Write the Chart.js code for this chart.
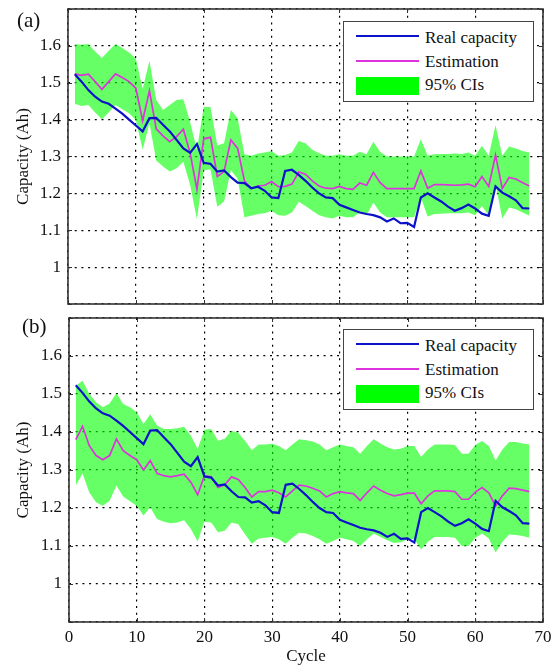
<!DOCTYPE html>
<html>
<head>
<meta charset="utf-8">
<script src="https://cdn.jsdelivr.net/npm/chart.js@4.4.1/dist/chart.umd.min.js"></script>
<style>
  html, body { margin: 0; padding: 0; background: #fff; }
  #page { position: relative; width: 556px; height: 668px; overflow: hidden; font-family: "Liberation Serif", "DejaVu Serif", serif; }
  canvas { position: absolute; left: 0; }
  .panel-label { position: absolute; font-size: 21px; color: #111; line-height: 1; }
  .legend { position: absolute; left: 343px; width: 189px; height: 79px; border: 1px solid #444; background: #fff; }
  .legend .sample { position: absolute; left: 12px; width: 63px; }
  .legend .txt { position: absolute; left: 81px; font-size: 17px; color: #111; line-height: 1; white-space: nowrap; }
</style>
</head>
<body>
<div id="page">
  <canvas id="chartA" width="556" height="312" style="top:0"></canvas>
  <canvas id="chartB" width="556" height="356" style="top:312px"></canvas>
  <div class="panel-label" style="left:17px; top:10px">(a)</div>
  <div class="panel-label" style="left:22px; top:316px">(b)</div>
  <div id="legendA" class="legend" style="top:21px"></div>
  <div id="legendB" class="legend" style="top:329px"></div>
</div>
<script>
// cycle numbers
const cycles = [1, 2, 3, 4, 5, 6, 7, 8, 9, 10, 11, 12, 13, 14, 15, 16, 17, 18, 19, 20,
  21, 22, 23, 24, 25, 26, 27, 28, 29, 30, 31, 32, 33, 34, 35, 36, 37, 38, 39, 40,
  41, 42, 43, 44, 45, 46, 47, 48, 49, 50, 51, 52, 53, 54, 55, 56, 57, 58, 59, 60,
  61, 62, 63, 64, 65, 66, 67, 68];

// measured capacity (same in both panels)
const realCapacity = [
  1.523, 1.503, 1.480, 1.462, 1.449, 1.443, 1.430, 1.416, 1.400, 1.384,
  1.368, 1.404, 1.405, 1.386, 1.368, 1.345, 1.322, 1.310, 1.334, 1.283,
  1.280, 1.259, 1.262, 1.244, 1.229, 1.228, 1.214, 1.218, 1.207, 1.189,
  1.187, 1.261, 1.264, 1.250, 1.234, 1.216, 1.200, 1.189, 1.187, 1.169,
  1.162, 1.155, 1.148, 1.144, 1.141, 1.135, 1.124, 1.132, 1.119, 1.120,
  1.109, 1.189, 1.200, 1.189, 1.178, 1.164, 1.153, 1.160, 1.170, 1.159,
  1.145, 1.139, 1.219, 1.202, 1.192, 1.181, 1.160, 1.159];

// panel (a)
const estimationA = [
  1.524, 1.520, 1.523, 1.503, 1.482, 1.503, 1.524, 1.514, 1.503, 1.485,
  1.397, 1.478, 1.375, 1.356, 1.340, 1.354, 1.374, 1.309, 1.211, 1.348,
  1.352, 1.246, 1.259, 1.345, 1.322, 1.234, 1.213, 1.220, 1.222, 1.232,
  1.218, 1.219, 1.225, 1.258, 1.252, 1.234, 1.220, 1.214, 1.213, 1.219,
  1.213, 1.211, 1.228, 1.222, 1.257, 1.229, 1.213, 1.213, 1.213, 1.213,
  1.213, 1.261, 1.214, 1.224, 1.224, 1.223, 1.222, 1.223, 1.225, 1.218,
  1.246, 1.219, 1.304, 1.213, 1.243, 1.239, 1.229, 1.220];
const upperA = [
  1.605, 1.603, 1.605, 1.585, 1.567, 1.587, 1.605, 1.594, 1.582, 1.566,
  1.483, 1.560, 1.453, 1.426, 1.440, 1.453, 1.455, 1.393, 1.318, 1.434,
  1.434, 1.330, 1.336, 1.426, 1.404, 1.306, 1.302, 1.308, 1.311, 1.315,
  1.302, 1.304, 1.311, 1.342, 1.336, 1.318, 1.309, 1.302, 1.302, 1.306,
  1.302, 1.302, 1.313, 1.306, 1.340, 1.313, 1.300, 1.300, 1.300, 1.300,
  1.300, 1.347, 1.302, 1.306, 1.307, 1.307, 1.308, 1.307, 1.311, 1.302,
  1.329, 1.302, 1.385, 1.302, 1.327, 1.322, 1.315, 1.311];
const lowerA = [
  1.443, 1.437, 1.440, 1.419, 1.401, 1.419, 1.440, 1.428, 1.417, 1.399,
  1.318, 1.390, 1.289, 1.273, 1.259, 1.268, 1.286, 1.223, 1.130, 1.263,
  1.265, 1.164, 1.178, 1.263, 1.240, 1.135, 1.139, 1.144, 1.146, 1.153,
  1.141, 1.139, 1.148, 1.177, 1.166, 1.153, 1.141, 1.135, 1.132, 1.139,
  1.135, 1.135, 1.148, 1.141, 1.175, 1.148, 1.135, 1.135, 1.135, 1.135,
  1.135, 1.189, 1.137, 1.144, 1.145, 1.146, 1.146, 1.146, 1.148, 1.141,
  1.166, 1.139, 1.225, 1.132, 1.162, 1.157, 1.148, 1.139];

// panel (b)
const estimationB = [
  1.380, 1.415, 1.364, 1.338, 1.327, 1.338, 1.382, 1.351, 1.338, 1.327,
  1.300, 1.325, 1.291, 1.285, 1.282, 1.285, 1.289, 1.268, 1.235, 1.285,
  1.282, 1.254, 1.261, 1.282, 1.275, 1.254, 1.229, 1.243, 1.243, 1.247,
  1.240, 1.229, 1.245, 1.260, 1.258, 1.252, 1.245, 1.229, 1.238, 1.243,
  1.240, 1.238, 1.220, 1.240, 1.258, 1.247, 1.238, 1.232, 1.235, 1.239,
  1.239, 1.211, 1.232, 1.245, 1.245, 1.245, 1.243, 1.223, 1.223, 1.242,
  1.254, 1.240, 1.205, 1.232, 1.252, 1.251, 1.247, 1.243];
const upperB = [
  1.522, 1.535, 1.500, 1.478, 1.465, 1.475, 1.502, 1.474, 1.465, 1.452,
  1.421, 1.447, 1.417, 1.408, 1.408, 1.410, 1.414, 1.390, 1.355, 1.406,
  1.408, 1.377, 1.382, 1.403, 1.398, 1.376, 1.352, 1.367, 1.367, 1.369,
  1.363, 1.352, 1.367, 1.381, 1.378, 1.375, 1.367, 1.352, 1.360, 1.367,
  1.363, 1.360, 1.343, 1.363, 1.381, 1.370, 1.360, 1.354, 1.356, 1.363,
  1.363, 1.334, 1.354, 1.367, 1.367, 1.367, 1.366, 1.343, 1.343, 1.366,
  1.376, 1.363, 1.325, 1.354, 1.374, 1.374, 1.370, 1.367];
const lowerB = [
  1.259, 1.291, 1.241, 1.215, 1.206, 1.219, 1.259, 1.230, 1.218, 1.206,
  1.180, 1.202, 1.171, 1.164, 1.160, 1.162, 1.168, 1.145, 1.112, 1.164,
  1.162, 1.136, 1.140, 1.162, 1.157, 1.131, 1.106, 1.120, 1.122, 1.124,
  1.118, 1.106, 1.122, 1.135, 1.133, 1.126, 1.118, 1.106, 1.113, 1.122,
  1.118, 1.113, 1.100, 1.118, 1.133, 1.124, 1.115, 1.108, 1.110, 1.118,
  1.118, 1.091, 1.111, 1.124, 1.124, 1.124, 1.122, 1.100, 1.100, 1.122,
  1.133, 1.120, 1.083, 1.111, 1.130, 1.129, 1.126, 1.122];

const BLUE = '#0c12c8';
const MAGENTA = '#dd33dd';
const BAND = 'rgba(0, 255, 0, 0.6)';
const FONT = '"Liberation Serif", "DejaVu Serif", serif';

const pts = ys => cycles.map((c, i) => ({ x: c, y: ys[i] }));

// frame + small inward ticks, matlab style
const boxPlugin = {
    id: 'box',
    afterDraw(chart) {
        const { ctx, chartArea: a, scales } = chart;
        ctx.save();
        ctx.strokeStyle = '#333';
        ctx.lineWidth = 1;
        scales.x.ticks.forEach(t => {
            const px = Math.round(scales.x.getPixelForValue(t.value)) + 0.5;
            ctx.beginPath();
            ctx.moveTo(px, a.bottom); ctx.lineTo(px, a.bottom - 4);
            ctx.moveTo(px, a.top); ctx.lineTo(px, a.top + 4);
            ctx.stroke();
        });
        scales.y.ticks.forEach(t => {
            const py = Math.round(scales.y.getPixelForValue(t.value)) + 0.5;
            ctx.beginPath();
            ctx.moveTo(a.left, py); ctx.lineTo(a.left + 4, py);
            ctx.moveTo(a.right, py); ctx.lineTo(a.right - 4, py);
            ctx.stroke();
        });
        ctx.lineWidth = 1.6;
        ctx.strokeRect(a.left, a.top, a.right - a.left, a.bottom - a.top);
        ctx.restore();
    }
};

// no automatic padding for edge labels: the plot box is placed by hand
const noEdgePad = s => { s.paddingTop = 0; s.paddingBottom = 0; s.paddingLeft = 0; s.paddingRight = 0; };

function makeChart(id, est, upper, lower, opts) {
    const ctx = document.getElementById(id).getContext('2d');
    return new Chart(ctx, {
        type: 'line',
        data: {
            datasets: [
                { label: 'Real capacity', data: pts(realCapacity), borderColor: BLUE, borderWidth: 2.2, order: 0 },
                { label: 'Estimation', data: pts(est), borderColor: MAGENTA, borderWidth: 1.7, order: 1 },
                { label: '95% CIs', data: pts(upper), borderWidth: 0, borderColor: 'rgba(0,0,0,0)', backgroundColor: BAND, fill: '+1', order: 2 },
                { label: 'lower', data: pts(lower), borderWidth: 0, borderColor: 'rgba(0,0,0,0)', fill: false, order: 3 }
            ]
        },
        options: {
            responsive: false,
            animation: false,
            events: [],
            elements: { point: { radius: 0 }, line: { tension: 0 } },
            layout: { padding: opts.padding, autoPadding: false },
            scales: {
                x: {
                    type: 'linear', min: 0, max: 70,
                    grid: { color: '#000', lineWidth: 1.2, drawTicks: false },
                    border: { display: false, dash: [2, 4.7] },
                    ticks: {
                        stepSize: 10, display: opts.showX, padding: 5,
                        color: '#111', font: { family: FONT, size: 17 }
                    },
                    title: {
                        display: opts.showX, text: 'Cycle', color: '#111',
                        font: { family: FONT, size: 17 }, padding: { top: 0, bottom: 1 }
                    },
                    afterFit: s => { s.height = opts.xHeight; noEdgePad(s); }
                },
                y: {
                    min: 0.9, max: 1.7,
                    grid: { color: '#000', lineWidth: 1.2, drawTicks: false },
                    border: { display: false, dash: [2, 4.7] },
                    ticks: {
                        stepSize: 0.1, padding: 7, color: '#111',
                        font: { family: FONT, size: 17 },
                        callback: v => (v < 0.95 || v > 1.65) ? '' : String(Number(v.toFixed(1)))
                    },
                    title: {
                        display: true, text: 'Capacity (Ah)', color: '#111',
                        font: { family: FONT, size: 17 }, padding: { top: 13, bottom: 0 }
                    },
                    afterFit: s => { s.width = opts.yWidth; noEdgePad(s); }
                }
            },
            plugins: {
                legend: { display: false },
                tooltip: { enabled: false }
            }
        },
        plugins: [boxPlugin]
    });
}

makeChart('chartA', estimationA, upperA, lowerA, {
    padding: { left: 0, top: 9, right: 13, bottom: 8 }, showX: false, xHeight: 0, yWidth: 68
});
makeChart('chartB', estimationB, upperB, lowerB, {
    padding: { left: 0, top: 6, right: 13, bottom: 0 }, showX: true, xHeight: 46, yWidth: 69
});

// --- legends ---
function fillLegend(id) {
    const el = document.getElementById(id);
    el.innerHTML =
        `<div class="sample" style="top:13px; height:2px; background:${BLUE}"></div>` +
        `<div class="txt" style="top:7px">Real capacity</div>` +
        `<div class="sample" style="top:38px; height:2px; background:${MAGENTA}"></div>` +
        `<div class="txt" style="top:31px">Estimation</div>` +
        `<div class="sample" style="top:55px; height:18px; background:#00ff00"></div>` +
        `<div class="txt" style="top:54px">95% CIs</div>`;
}
fillLegend('legendA');
fillLegend('legendB');
</script>
</body>
</html>
